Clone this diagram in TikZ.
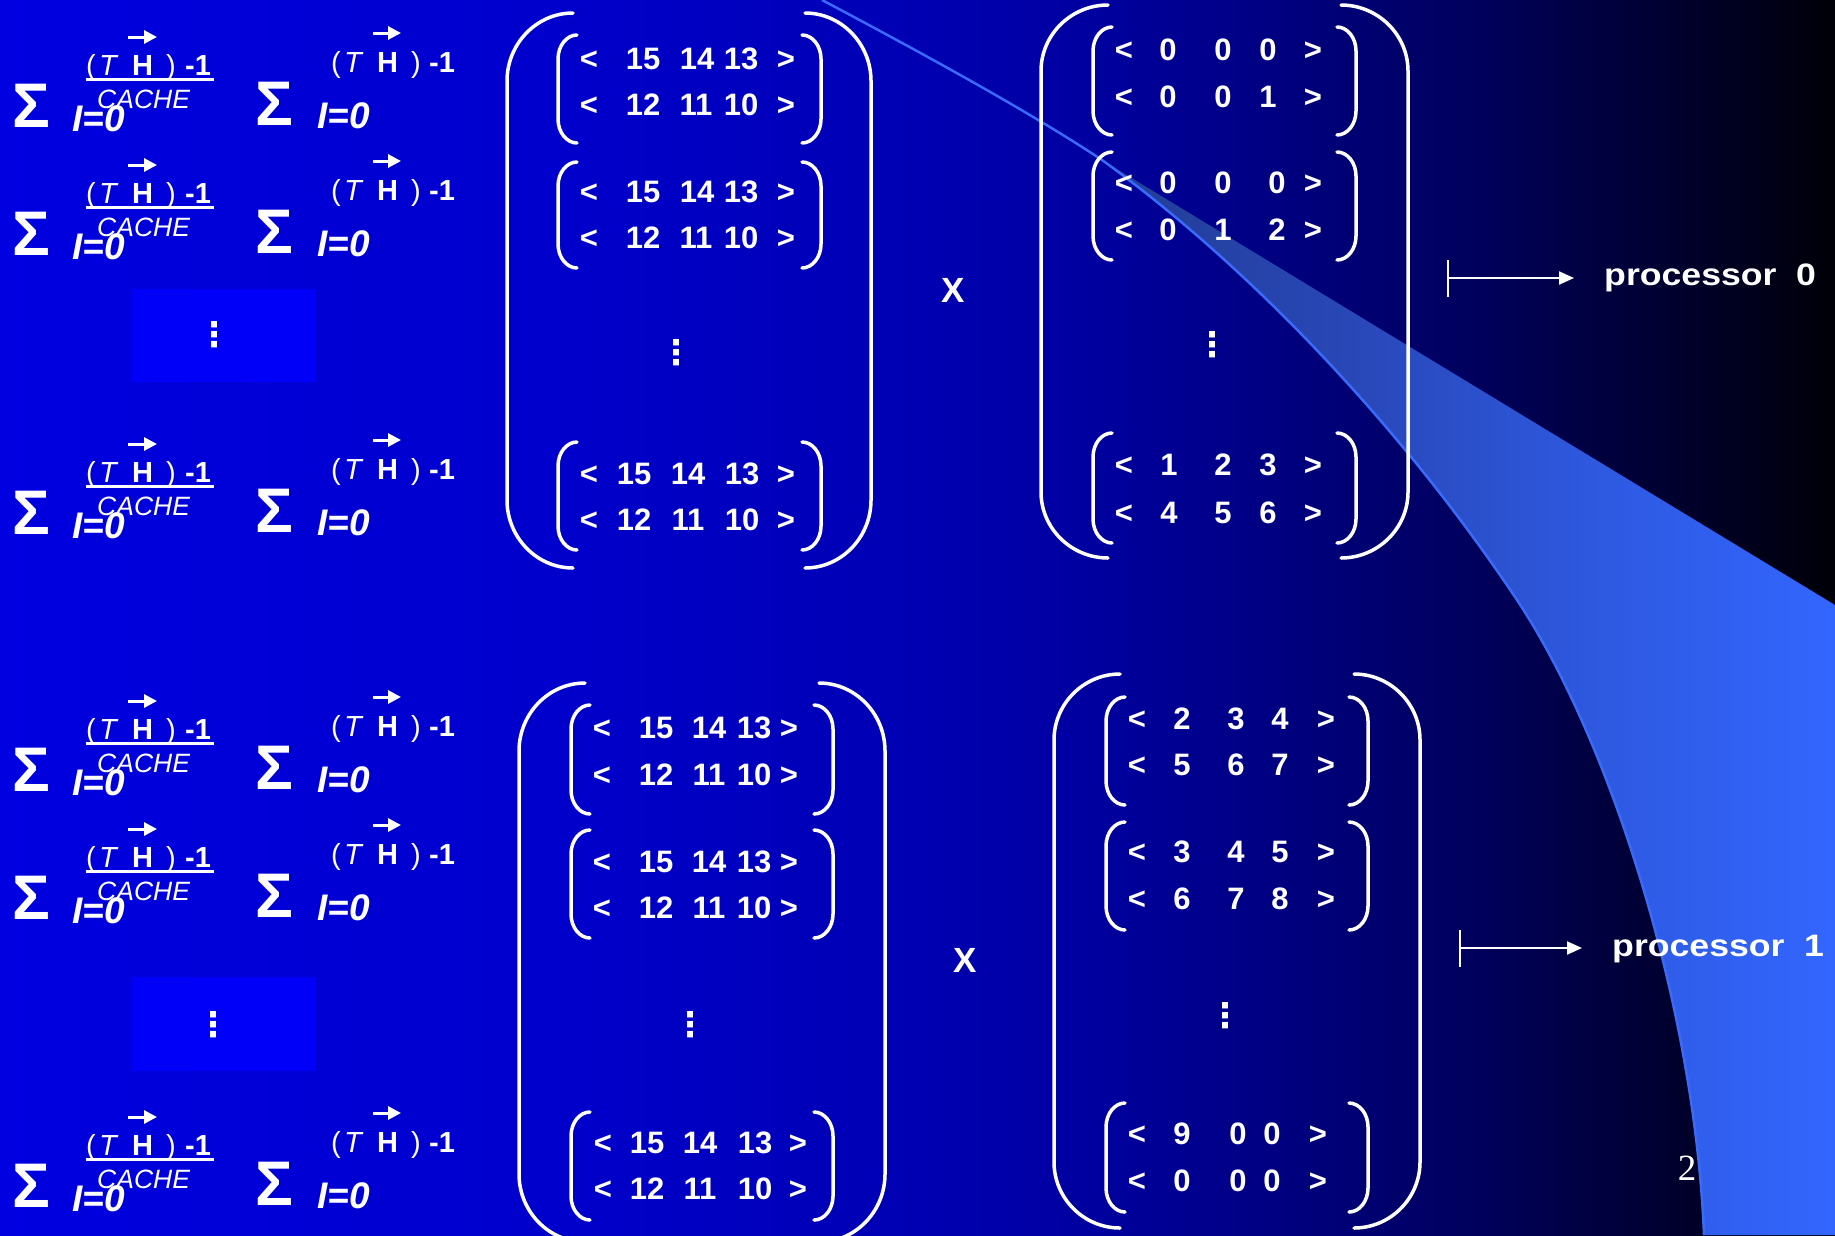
\documentclass[tikz,border=0pt]{standalone}
\usepackage{fontspec}
\setmainfont{Liberation Sans}
\newfontfamily\serifpn{Liberation Serif}
\newfontfamily\dejavu{DejaVu Sans}
\usepackage{graphicx}
\usetikzlibrary{arrows.meta}

\pgfdeclarehorizontalshading{slidebg}{100bp}{rgb(0bp)=(0,0,.88); rgb(25bp)=(0,0,.88); rgb(40bp)=(0,0,.80); rgb(50bp)=(0,0,.70); rgb(55bp)=(0,0,.62); rgb(60bp)=(0,0,.50); rgb(65bp)=(0,0,.37); rgb(70bp)=(0,0,.20); rgb(75bp)=(0,0,.03); rgb(100bp)=(0,0,.03)}
\pgfdeclarehorizontalshading{wedgeshade}{100bp}{rgb(0bp)=(.13,.24,.58); rgb(25bp)=(.13,.24,.58); rgb(42bp)=(.16,.28,.72); rgb(59bp)=(.18,.35,.88); rgb(75bp)=(.2,.4,1); rgb(100bp)=(.2,.4,1)}

\definecolor{swline}{RGB}{58,106,250}
\definecolor{dotbox}{RGB}{0,0,250}

\tikzset{
  wl/.style={draw=white, line width=3.5pt, line cap=round},
  num/.style={text=white, inner sep=0pt, anchor=base, font=\fontsize{31}{31}\selectfont\bfseries},
  vdots/.style={text=white, inner sep=0pt, anchor=center, font=\fontsize{34}{34}\selectfont\dejavu\bfseries},
  sig/.style={text=white, inner sep=0pt, anchor=base west, font=\fontsize{63}{63}\selectfont\bfseries},
  ftxt/.style={text=white, inner sep=0pt, anchor=base west, font=\fontsize{29}{29}\selectfont},
  cache/.style={text=white, inner sep=0pt, anchor=base west, font=\fontsize{26.5}{26.5}\selectfont\itshape},
  idx/.style={text=white, inner sep=0pt, anchor=base west, font=\fontsize{37}{37}\selectfont\bfseries\itshape},
  bigx/.style={text=white, inner sep=0pt, anchor=center, font=\fontsize{35}{35}\selectfont\bfseries},
  proc/.style={text=white, inner sep=0pt, anchor=base west, font=\fontsize{31}{31}\selectfont\bfseries},
  vecarrow/.style={white, line width=3pt, -{Triangle[length=13pt,width=13pt]}},
  procarrow/.style={white, line width=2.2pt, {Bar[width=37pt]}-{Triangle[length=15pt,width=13pt]}, shorten >=30pt},
}

% paren pair: xl, xr, ytop, ybot, rx, ry
\newcommand\parpair[6]{%
  \draw[wl] ({#1+#5},#3) .. controls ({#1+0.45*#5},#3) and (#1,{#3+0.45*#6}) .. (#1,{#3+#6}) -- (#1,{#4-#6}) .. controls (#1,{#4-0.45*#6}) and ({#1+0.45*#5},#4) .. ({#1+#5},#4);
  \draw[wl] ({#2-#5},#3) .. controls ({#2-0.45*#5},#3) and (#2,{#3+0.45*#6}) .. (#2,{#3+#6}) -- (#2,{#4-#6}) .. controls (#2,{#4-0.45*#6}) and ({#2-0.45*#5},#4) .. ({#2-#5},#4);
}
% matrix row: name, baseline y, list x/text
\newcommand\mrow[3]{%
  \foreach \xx/\ll [count=\ii] in {#3} {\node[num] (#1-\ii) at (\xx,#2) {\ll};}
}
% sum formula row: name, y offset
\newcommand\sumrow[2]{%
  \begin{scope}[shift={(0,#2)}]
    \node[sig] (#1-sa) at (12,127) {Σ};
    \node[ftxt] (#1-lpa) at (86,75) {(};
    \node[ftxt] (#1-ta) at (99,75) {\itshape T};
    \node[ftxt] (#1-ha) at (132,75) {\bfseries H};
    \node[ftxt] (#1-rpa) at (166,75) {)};
    \node[ftxt] (#1-ma) at (185,75) {\bfseries -1};
    \draw[vecarrow] (128,37) -- (157,37);
    \draw[white, line width=3pt] (#1-lpa.base west |- 0,79) -- (214,79);
    \node[cache] (#1-ca) at (97,108) {CACHE};
    \node[idx] (#1-ia) at (72,131) {I=0};
    \node[sig] (#1-sb) at (255,125) {Σ};
    \node[ftxt] (#1-lpb) at (331,72) {(};
    \node[ftxt] (#1-tb) at (344,72) {\itshape T};
    \node[ftxt] (#1-hb) at (377,72) {\bfseries H};
    \node[ftxt] (#1-rpb) at (411,72) {)};
    \node[ftxt] (#1-mb) at (429,72) {\bfseries -1};
    \draw[vecarrow] (373,33) -- (401,33);
    \node[idx] (#1-ib) at (317,128) {I=0};
  \end{scope}
}

\begin{document}
\begin{tikzpicture}[x=1pt,y=-1pt]
\useasboundingbox (0,0) rectangle (1835,1235);
\clip (0,0) rectangle (1835,1235);
\shade[shading=slidebg] (0,0) rectangle (1835,1235);

% swoosh
\shade[shading=wedgeshade] (1102,160) -- (1835,605) -- (1835,1235) -- (1704,1235) .. controls (1695,1010) and (1612,743) .. (1517,600) .. controls (1397,420) and (1242,261) .. (1102,160) -- cycle;
\draw[swline, line width=2.5pt] (822,0) .. controls (920,52) and (1030,112) .. (1102,160) .. controls (1242,261) and (1397,420) .. (1517,600) .. controls (1612,743) and (1695,1010) .. (1704,1235);

% left dot boxes
\node[fill=dotbox, inner sep=0pt, minimum width=184pt, minimum height=93pt] (box1) at (224,335.5) {};
\node[fill=dotbox, inner sep=0pt, minimum width=184pt, minimum height=94pt] (box2) at (224,1024) {};
\node[vdots] (box1dots) at (214,335) {⋮};
\node[vdots] (box2dots) at (213,1025) {⋮};

% sums
\sumrow{r1}{0}
\sumrow{r2}{128}
\sumrow{r3}{407}
\sumrow{r4}{664}
\sumrow{r5}{792}
\sumrow{r6}{1080}

% top-left matrix
\parpair{507}{871}{13}{568}{66}{68}
\parpair{558}{821}{35}{143}{19}{24}
\parpair{558}{821}{162}{268}{19}{24}
\parpair{558}{821}{442}{550}{19}{24}
\mrow{tla}{69}{589/<,643/15,697/14,741/13,786/>}
\mrow{tlb}{115}{589/<,643/12,696/11,741/10,786/>}
\mrow{tlc}{202}{589/<,643/15,697/14,741/13,786/>}
\mrow{tld}{248}{589/<,643/12,696/11,741/10,786/>}
\mrow{tle}{484}{589/<,634/15,688/14,742/13,786/>}
\mrow{tlf}{530}{589/<,634/12,688/11,742/10,786/>}
\node[vdots] (tldots) at (676,353) {⋮};

\node[bigx] (times1) at (953,290) {X};

% top-right matrix
\parpair{1041}{1408}{5}{558}{67}{66}
\parpair{1093}{1356}{27}{135}{19}{24}
\parpair{1093}{1356}{152}{260}{19}{24}
\parpair{1093}{1356}{433}{543}{19}{24}
\mrow{tra}{60}{1124/<,1168/0,1223/0,1268/0,1313/>}
\mrow{trb}{107}{1124/<,1168/0,1223/0,1268/1,1313/>}
\mrow{trc}{193}{1124/<,1168/0,1223/0,1277/0,1313/>}
\mrow{trd}{240}{1124/<,1168/0,1223/1,1277/2,1313/>}
\mrow{tre}{475}{1124/<,1169/1,1223/2,1268/3,1313/>}
\mrow{trf}{523}{1124/<,1169/4,1223/5,1268/6,1313/>}
\node[vdots] (trdots) at (1212,345) {⋮};

% bottom-left matrix
\parpair{519}{885}{683}{1242}{66}{68}
\parpair{571}{833}{705}{814}{19}{24}
\parpair{571}{833}{830}{938}{19}{24}
\parpair{571}{833}{1112}{1220}{19}{24}
\mrow{bla}{738}{602/<,656/15,709/14,754/13,789/>}
\mrow{blb}{785}{602/<,656/12,709/11,754/10,789/>}
\mrow{blc}{872}{602/<,656/15,709/14,754/13,789/>}
\mrow{bld}{918}{602/<,656/12,709/11,754/10,789/>}
\mrow{ble}{1153}{603/<,647/15,700/14,755/13,798/>}
\mrow{blf}{1199}{603/<,647/12,700/11,755/10,798/>}
\node[vdots] (bldots) at (690,1025) {⋮};

\node[bigx] (times2) at (965,960) {X};

% bottom-right matrix
\parpair{1054}{1420}{674}{1228}{66}{66}
\parpair{1106}{1368}{697}{805}{19}{24}
\parpair{1106}{1368}{822}{930}{19}{24}
\parpair{1106}{1368}{1103}{1212}{19}{24}
\mrow{bra}{729}{1137/<,1182/2,1236/3,1280/4,1326/>}
\mrow{brb}{775}{1137/<,1182/5,1236/6,1280/7,1326/>}
\mrow{brc}{862}{1137/<,1182/3,1236/4,1280/5,1326/>}
\mrow{brd}{909}{1137/<,1182/6,1236/7,1280/8,1326/>}
\mrow{bre}{1144}{1137/<,1182/9,1238/0,1272/0,1318/>}
\mrow{brf}{1191}{1137/<,1182/0,1238/0,1272/0,1318/>}
\node[vdots] (brdots) at (1225,1016) {⋮};

% processors
\node[proc] (p0) at (1604,285) {\scalebox{1.15}[1]{processor\hspace{17pt}0}};
\coordinate (p0bar) at (1447,278);
\draw[procarrow] (p0bar) -- (p0bar -| p0.west);
\node[proc] (p1) at (1612,956) {\scalebox{1.15}[1]{processor\hspace{17pt}1}};
\coordinate (p1bar) at (1459,948);
\draw[procarrow] (p1bar) -- (p1bar -| p1.west);

% page number
\node[text=white, inner sep=0pt, anchor=base, font=\fontsize{37}{37}\selectfont\serifpn] (pagenum) at (1687,1180) {2};
\end{tikzpicture}
\end{document}
